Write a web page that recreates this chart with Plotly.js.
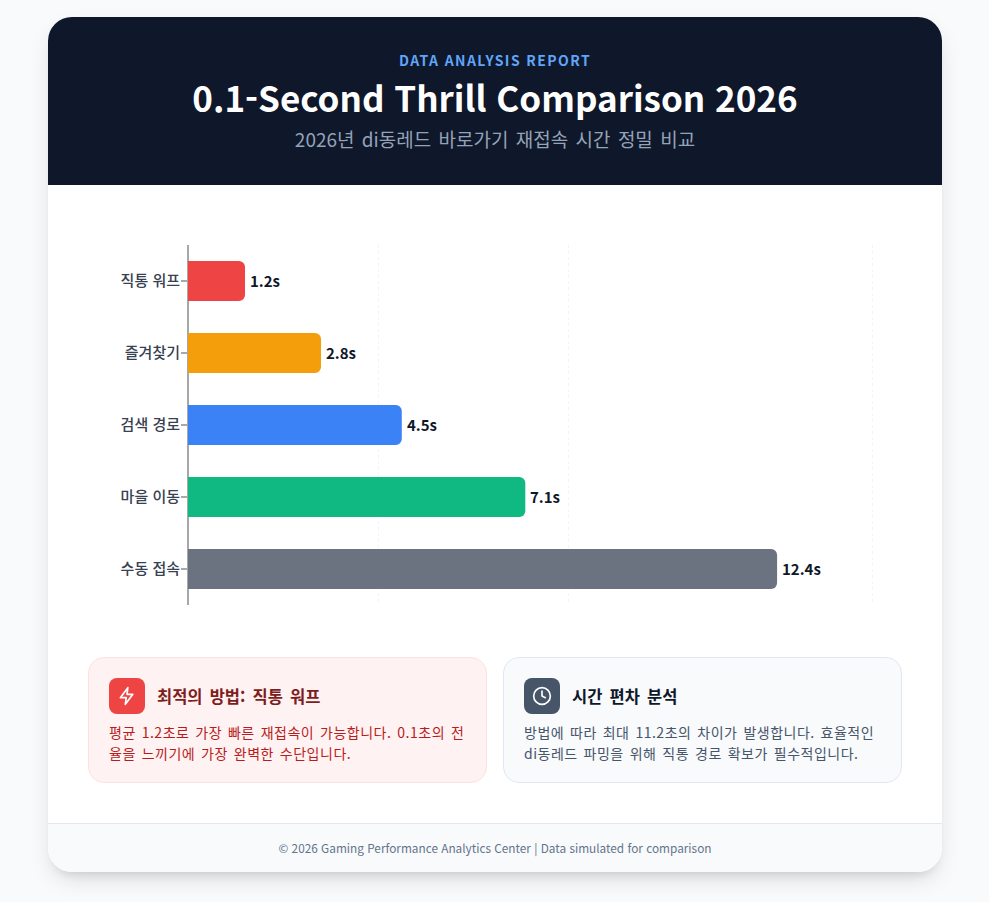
<!DOCTYPE html>
<html lang="ko"><head><meta charset="utf-8">
<script src="https://cdn.plot.ly/plotly-3.0.1.min.js"></script>
<style>
*{box-sizing:border-box}
html,body{margin:0;padding:0;width:989px;height:902px;overflow:hidden;background:#f8fafc;font-family:"Noto Sans CJK KR","Noto Sans",sans-serif}
#card{position:absolute;left:48px;top:17px;width:894px;height:855px;background:#fff;border-radius:24px;overflow:hidden;box-shadow:0 10px 25px -5px rgba(0,0,0,.14),0 8px 10px -6px rgba(0,0,0,.1)}
#head{position:absolute;left:0;top:0;width:894px;height:168px;background:#0f172a;text-align:center}
.abs{position:absolute;white-space:nowrap}
#eyebrow{left:0;width:894px;top:33px;font-size:14px;line-height:20px;font-weight:700;letter-spacing:1.4px;color:#60a5fa}
#title{left:0;width:894px;top:54px;font-size:35px;line-height:52px;font-weight:700;color:#fff}
#sub{left:0;width:894px;top:108px;font-size:19px;line-height:28px;word-spacing:2px;color:#94a3b8}
#chart{position:absolute;left:0;top:168px;width:894px;height:460px}
.box{position:absolute;top:640px;height:126px;border-radius:16px}
#b1{left:40px;width:399px;background:#fef2f2;border:1px solid #fee2e2}
#b2{left:455px;width:399px;background:#f8fafc;border:1px solid #e2e8f0}
.ico{position:absolute;left:20px;top:20px;width:36px;height:36px;border-radius:8px;display:flex;align-items:center;justify-content:center}
.h{position:absolute;left:68px;top:26px;font-size:16.5px;line-height:24px;font-weight:700;word-spacing:2.5px;white-space:nowrap}
.t{position:absolute;left:20px;top:64px;font-size:14px;line-height:21px;letter-spacing:.5px;word-spacing:1.5px;white-space:nowrap}
#foot{position:absolute;left:0;top:806px;width:894px;height:49px;background:#f8fafc;border-top:1px solid #e2e8f0;text-align:center;font-size:11.8px;line-height:47px;color:#64748b}
</style></head><body>
<div id="card">
 <div id="head">
  <div id="eyebrow" class="abs">DATA ANALYSIS REPORT</div>
  <div id="title" class="abs">0.1-Second Thrill Comparison 2026</div>
  <div id="sub" class="abs">2026년 di동레드 바로가기 재접속 시간 정밀 비교</div>
 </div>
 <div id="chart"></div>
 <div class="box" id="b1">
  <div class="ico" style="background:#ef4444"><svg width="20" height="20" viewBox="0 0 24 24" fill="none" stroke="#fff" stroke-width="2" stroke-linecap="round" stroke-linejoin="round"><path d="M13 2 4 14h7l-1 8 9-12h-7l1-8z"/></svg></div>
  <div class="h" style="color:#7f1d1d">최적의 방법: 직통 워프</div>
  <div class="t" style="color:#b91c1c">평균 1.2초로 가장 빠른 재접속이 가능합니다. 0.1초의 전<br>율을 느끼기에 가장 완벽한 수단입니다.</div>
 </div>
 <div class="box" id="b2">
  <div class="ico" style="background:#475569"><svg width="20" height="20" viewBox="0 0 24 24" fill="none" stroke="#fff" stroke-width="2" stroke-linecap="round" stroke-linejoin="round"><circle cx="12" cy="12" r="10"/><path d="M12 6v6l4 2"/></svg></div>
  <div class="h" style="color:#0f172a">시간 편차 분석</div>
  <div class="t" style="color:#475569">방법에 따라 최대 11.2초의 차이가 발생합니다. 효율적인<br>di동레드 파밍을 위해 직통 경로 확보가 필수적입니다.</div>
 </div>
 <div id="foot">© 2026 Gaming Performance Analytics Center | Data simulated for comparison</div>
</div>
<script>
const categories = ["직통 워프", "즐겨찾기", "검색 경로", "마을 이동", "수동 접속"];
const seconds = [1.2, 2.8, 4.5, 7.1, 12.4];
const barColors = ["#ef4444", "#f59e0b", "#3b82f6", "#10b981", "#6b7280"];
const valueLabels = ["1.2s", "2.8s", "4.5s", "7.1s", "12.4s"];
const gridTicks = [4, 8, 14.4];
const axisMax = 14.44;

Plotly.newPlot("chart", [{
  type: "bar", orientation: "h",
  y: categories, x: seconds,
  marker: {color: barColors, line: {width: 0}},
  width: 0.556,
  hoverinfo: "skip"
}], {
  width: 894, height: 460,
  margin: {l: 140, r: 68, t: 60, b: 40},
  paper_bgcolor: "rgba(0,0,0,0)", plot_bgcolor: "rgba(0,0,0,0)",
  barcornerradius: 6,
  showlegend: false,
  annotations: categories.map((c, i) => ({
    xref: "x", yref: "y", x: seconds[i], y: c, text: valueLabels[i],
    xanchor: "left", yanchor: "middle", xshift: 3, yshift: 1, showarrow: false,
    font: {family: '"Noto Sans CJK KR"', size: 15, color: "#0f172a", weight: 700}
  })),
  xaxis: {range: [0, axisMax], tickmode: "array", tickvals: gridTicks, showticklabels: false,
    ticks: "", showgrid: true, gridcolor: "#f1f5f9", griddash: "3px,3px", gridwidth: 1,
    zeroline: true, zerolinecolor: "#a8a8a8", zerolinewidth: 2, showline: false, fixedrange: true},
  yaxis: {autorange: "reversed", type: "category", ticks: "outside", ticklen: 6, tickwidth: 2, tickcolor: "#a8a8a8",
    ticklabelstandoff: -2, showline: false, showgrid: false, zeroline: false, fixedrange: true,
    tickfont: {family: '"Noto Sans CJK KR"', size: 15, color: "#374151", weight: 500}}
}, {displayModeBar: false, staticPlot: true});
</script>
</body></html>
